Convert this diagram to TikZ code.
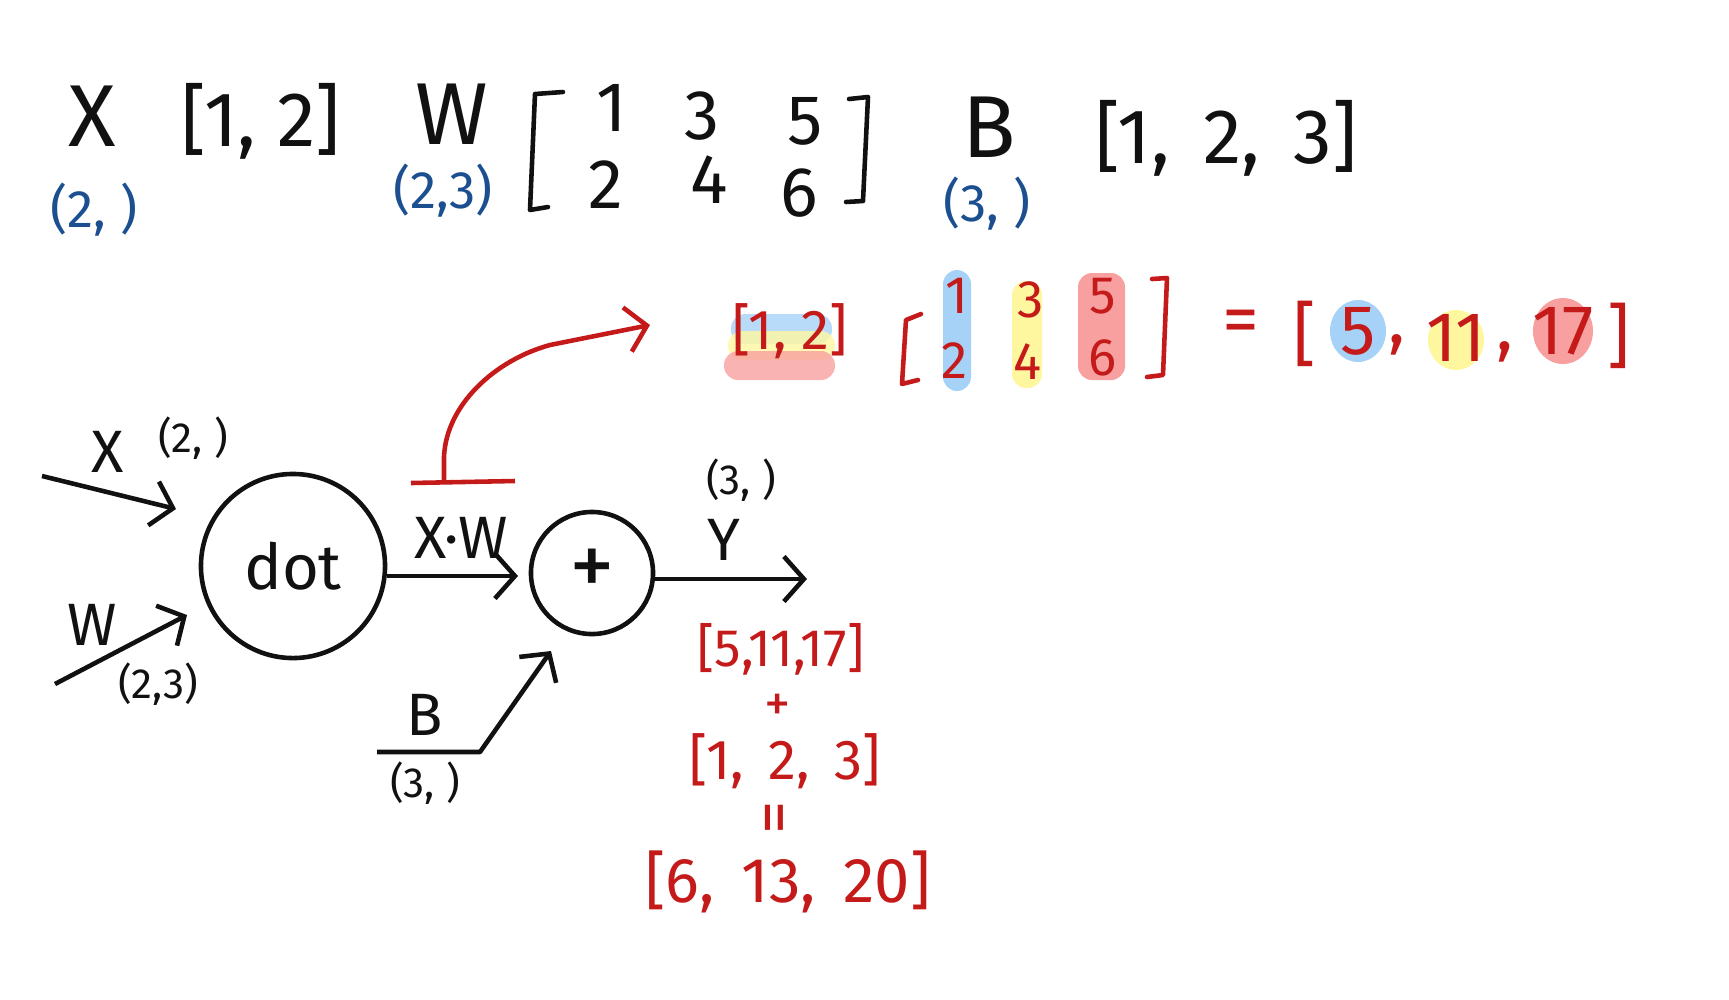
\documentclass[tikz,border=0pt]{standalone}
\usepackage{fontspec}
\setmainfont{Fira Sans}
\usetikzlibrary{arrows.meta,positioning}
\definecolor{ink}{HTML}{111111}
\definecolor{shapeblue}{HTML}{1B4F8F}
\definecolor{calcred}{HTML}{C41A1A}
\definecolor{hlblue}{HTML}{A6D2F7}
\definecolor{hlyellow}{HTML}{FFF7A0}
\definecolor{hlpink}{HTML}{F8A0A0}
\tikzset{
  bigsym/.style={text=ink,font=\fontsize{25}{30}\selectfont,inner sep=0pt},
  vecsym/.style={text=ink,font=\fontsize{22}{26}\selectfont,inner sep=0pt},
  matsym/.style={text=ink,font=\fontsize{20}{24}\selectfont,inner sep=0pt},
  dimsym/.style={text=shapeblue,font=\fontsize{15}{18}\selectfont,inner sep=0pt},
  lblsym/.style={text=ink,font=\fontsize{17}{20}\selectfont,inner sep=0pt},
  dimlbl/.style={text=ink,font=\fontsize{12}{15}\selectfont,inner sep=0pt},
  redmat/.style={text=calcred,font=\fontsize{15}{18}\selectfont,inner sep=0pt},
  redvec/.style={text=calcred,font=\fontsize{15}{18}\selectfont,inner sep=0pt},
  redres/.style={text=calcred,font=\fontsize{20}{24}\selectfont,inner sep=0pt},
  opnode/.style={draw=ink,circle,line width=1.3pt,inner sep=0pt,text=ink},
  handarrow/.style={-{Straight Barb[length=2mm,width=4.5mm]},draw=ink,line width=1.3pt,line join=round},
  redarrow/.style={-{Straight Barb[length=2mm,width=4.5mm]},draw=calcred,line width=1.3pt},
  bracket/.style={draw=ink,line width=1.3pt,line cap=round,line join=round},
  redbracket/.style={bracket,draw=calcred},
  hl/.style={fill opacity=0.8}
}
\begin{document}
\begin{tikzpicture}[x=0.01cm,y=-0.01cm]
  \useasboundingbox (0,0) rectangle (1729,999);
  % shapes of X, W and B
  \node[bigsym] (xsym) at (92,116) {X};
  \node[vecsym] (xvec) at (261,121) {[1, 2]};
  \node[dimsym] (xdim) at (94,210) {(2, )};
  \node[bigsym] (wsym) at (452,114) {W};
  \node[dimsym] (wdim) at (443,191) {(2,3)};
  \node[matsym] (w11) at (612,108) {1};
  \node[matsym] (w12) at (702,116) {3};
  \node[matsym] (w13) at (805,121) {5};
  \node[matsym] (w21) at (606,185) {2};
  \node[matsym] (w22) at (709,180) {4};
  \node[matsym] (w23) at (799,193) {6};
  \draw[bracket] (563,92) -- (535,94) -- (530,210) -- (548,207);
  \draw[bracket] (849,99) -- (868,97) -- (863,201) -- (846,202);
  \node[bigsym] (bsym) at (989,127) {B};
  \node[dimsym] (bdim) at (987,204) {(3, )};
  \node[vecsym] (bvec) at (1226,138) {[1,\, 2,\, 3]};
  % highlighted product
  \fill[hlblue,hl,rounded corners=4pt] (731,314) rectangle (832,344);
  \fill[hlyellow,hl,rounded corners=4pt] (728,331) rectangle (835,360);
  \fill[hlpink,hl,rounded corners=4pt] (724,351) rectangle (835,380);
  \fill[hlblue,rounded corners=4pt] (943,270) rectangle (971,391);
  \fill[hlyellow,rounded corners=4pt] (1012,281) rectangle (1042,388);
  \fill[hlpink,rounded corners=4pt] (1078,273) rectangle (1125,380);
  \fill[hlblue] (1358,331) ellipse [x radius=28,y radius=31];
  \fill[hlyellow] (1456,340) ellipse [x radius=28,y radius=30];
  \fill[hlpink] (1563,331) ellipse [x radius=30,y radius=33];
  \node[redvec,font=\fontsize{16}{19}\selectfont] (pvec) at (790,331) {[1, 2]};
  \node[redmat] (p11) at (957,296) {1};
  \node[redmat] (p21) at (955,361) {2};
  \node[redmat] (p12) at (1031,300) {3};
  \node[redmat] (p22) at (1028,362) {4};
  \node[redmat] (p13) at (1103,296) {5};
  \node[redmat] (p23) at (1103,358) {6};
  \draw[redbracket] (921,314) -- (906,320) -- (902,384) -- (918,380);
  \draw[redbracket] (1152,279) -- (1167,278) -- (1163,375) -- (1147,377);
  \node[redvec,font=\fontsize{21}{25}\selectfont] (peq) at (1241,327) {=};
  \node[redres] (rlb) at (1305,334) {[};
  \node[redres] (r1) at (1358,331) {5};
  \node[redres] (rc1) at (1397,345) {,};
  \node[redres] (r2) at (1456,338) {11};
  \node[redres] (rc2) at (1505,352) {,};
  \node[redres] (r3) at (1563,331) {17};
  \node[redres] (rrb) at (1619,336) {]};
  % graph
  \node[opnode,minimum size=1.84cm,font=\fontsize{18}{22}\selectfont] (dot) at (293,566) {dot};
  \node[opnode,minimum size=1.22cm,font=\fontsize{26}{30}\selectfont] (plus) at (592,573) {+};
  \coordinate (xstart) at (42,476);
  \coordinate (xend) at (176,509);
  \coordinate (wstart) at (55,684);
  \coordinate (wend) at (187,615);
  \coordinate (xwend) at (518,576);
  \coordinate (bstart) at (377,752);
  \coordinate (bknee) at (480,752);
  \coordinate (bend) at (551,651);
  \coordinate (yend) at (807,579);
  \draw[handarrow] (xstart) -- (xend);
  \draw[handarrow] (wstart) -- (wend);
  \draw[handarrow] (dot.east |- xwend) -- (xwend);
  \draw[handarrow] (bstart) -- (bknee) -- (bend);
  \draw[handarrow] (plus.east |- yend) -- (yend);
  \node[lblsym] (xlbl) at (108,452) {X};
  \node[dimlbl] (xlbldim) at (193,438) {(2, )};
  \node[lblsym] (wlbl) at (92,625) {W};
  \node[dimlbl] (wlbldim) at (158,684) {(2,3)};
  \node[lblsym] (xwlbl) at (461,538) {X·W};
  \node[lblsym] (blbl) at (425,715) {B};
  \node[dimlbl] (blbldim) at (425,783) {(3, )};
  \node[lblsym] (ylbl) at (724,540) {Y};
  \node[dimlbl] (ylbldim) at (741,480) {(3, )};
  % red link to the product
  \coordinate (tbarl) at (411,483);
  \coordinate (tbarr) at (515,481);
  \coordinate (tbar) at (444,482);
  \coordinate (prodtip) at (650,325);
  \draw[calcred,line width=1.3pt] (tbarl) -- (tbarr);
  \draw[redarrow] (tbar) -- ++(0,-25) .. controls (446,405) and (495,360) .. (550,345) -- (prodtip);
  % addition of the bias
  \node[redvec] (sum1) at (781,649) {[5,11,17]};
  \node[redvec] (sumop) at (778,708) {+};
  \node[redvec,font=\fontsize{16}{19}\selectfont] (sum2) at (785,761) {[1,\, 2,\, 3]};
  \node[redvec,rotate=90,font=\fontsize{19}{22}\selectfont] (sumeq) at (781,818) {=};
  \node[redvec,font=\fontsize{18}{22}\selectfont] (sum3) at (788,882) {[6,\, 13,\, 20]};
\end{tikzpicture}
\end{document}
